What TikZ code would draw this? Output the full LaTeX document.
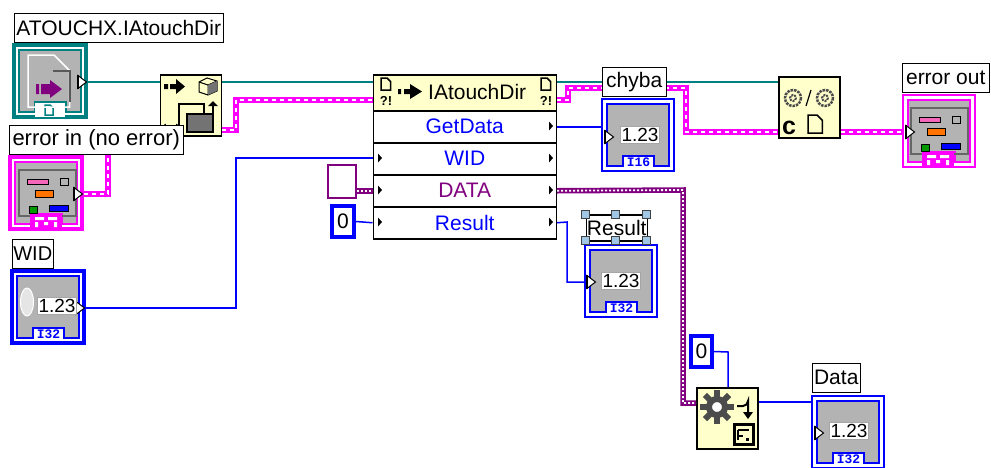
\documentclass[tikz,border=0pt]{standalone}
\usepackage{fontspec}
\setmainfont{Liberation Sans}
\setmonofont{Liberation Mono}
\usetikzlibrary{positioning}
\definecolor{labteal}{RGB}{0,128,128}
\definecolor{labpink}{RGB}{255,0,255}
\definecolor{labblue}{RGB}{0,0,255}
\definecolor{labpurple}{RGB}{128,0,128}
\definecolor{labyellow}{RGB}{255,255,204}
\definecolor{labgray}{RGB}{179,179,179}
\definecolor{labhandle}{RGB}{160,200,230}
\tikzset{
	caption/.style={draw=black, line width=1.5pt, fill=white, inner sep=0pt, font=\fontsize{21}{21}\selectfont, anchor=north west},
	vinode/.style={draw=black, line width=1.5pt, fill=labyellow, minimum size=61pt, inner sep=0pt, anchor=north west},
	prophead/.style={draw=black, line width=1.5pt, fill=labyellow, minimum width=183pt, minimum height=36pt, inner sep=0pt, anchor=north west},
	proprow/.style={draw=black, line width=1.5pt, fill=white, minimum width=183pt, minimum height=32pt, inner sep=0pt, font=\fontsize{21}{21}\selectfont, anchor=north west},
	constbox/.style={fill=white, inner sep=0pt, font=\fontsize{21}{21}\selectfont},
	bluewire/.style={draw=labblue, line width=1.5pt},
	tealwire/.style={draw=labteal, line width=1.5pt},
	errorwire/.style={draw=labpink, line width=6pt, postaction={draw=white, line width=2pt, dash pattern=on 4pt off 4pt}},
	datawire/.style={draw=labpurple, line width=5.5pt, postaction={draw=white, line width=1.8pt, dash pattern=on 2pt off 2pt}},
	tip/.style={fill=white, draw=black, line width=1pt, line join=miter},
	handlebox/.style={draw=black!75, fill=labhandle, line width=0.8pt}
}
%terminal: #1 name, #2 position, #3 colour, #4 outer border width, #5 tag text
\newcommand{\terminal}[5]{
	\begin{scope}[shift={#2}]
		\node[draw=#3, line width=#4, fill=white, minimum size=72pt, inner sep=0pt] (#1) at (37,37) {};
		\draw[#3, line width=1.5pt, fill=labgray] (6,6) -- (68,6) -- (68,68) -- (53,68) -- (53,58) -- (22,58) -- (22,68) -- (6,68) -- cycle;
		\node[text=#3, inner sep=0pt, font=\fontsize{13}{13}\bfseries\ttfamily] (#1tag) at (37.5,64) {#5};
	\end{scope}
}
%output triangle with its heavy back edge
\newcommand{\tiptri}[1]{
	\draw[tip] #1 ++(0,-6.5) -- ++(8.5,6.5) -- ++(-8.5,6.5) -- cycle;
	\draw[black, line width=2pt] #1 ++(0,-7) -- ++(0,14);
}
%numeric display shown inside a terminal
\newcommand{\numshow}[1]{
	\node[fill=white, draw=black!35, line width=1pt, inner sep=1.5pt, font=\fontsize{19}{19}\selectfont] at #1 {1.23};
}
%the bars and the tag of an error cluster
\newcommand{\errbars}[1]{
	\begin{scope}[shift={#1}]
		\draw[black!60, line width=1.2pt] (22,60) -- (10,60) -- (10,14) -- (67,14) -- (67,60) -- (53,60);
		\draw[line width=1pt, fill=magenta!60] (18,23) rectangle (39,28);
		\draw[line width=1pt, fill=orange!90!red] (26,34) rectangle (44,41);
		\draw[line width=1pt, fill=labgray] (51,22) rectangle (59,29);
		\draw[line width=1pt, fill=green!60!black] (20,50) rectangle (28,57);
		\draw[line width=1pt, fill=labblue] (40,49) rectangle (59,55);
		\fill[labpink] (21,58) rectangle (53,73);
		\fill[white] (26,61) rectangle (35,64) (39,61) rectangle (48,64) (26,66) rectangle (29,71) (35,66) rectangle (39,69) (45,66) rectangle (48,71);
	\end{scope}
}
%small sheet of paper with a folded corner
\newcommand{\sheet}[3]{
	\draw[#3] #1 -- ++(0,#2) -- ++(0.8*#2,0) -- ++(0,-0.7*#2) -- ++(-0.3*#2,-0.3*#2) -- cycle;
}
\begin{document}
\begin{tikzpicture}[x=1pt, y=-1pt]
	\useasboundingbox (0,0) rectangle (991,467);

	%bends of the wires
	\coordinate (errbendA) at (108,194);
	\coordinate (errbendB) at (108,150);
	\coordinate (openbendA) at (236,130);
	\coordinate (openbendB) at (236,100);
	\coordinate (propbendA) at (568,100);
	\coordinate (propbendB) at (568,88);
	\coordinate (chybabendA) at (686,88);
	\coordinate (chybabendB) at (686,132);
	\coordinate (widbendA) at (236,308);
	\coordinate (widbendB) at (236,158);
	\coordinate (databendA) at (683,190);
	\coordinate (databendB) at (683,403);
	\coordinate (resbendA) at (567,222);
	\coordinate (resbendB) at (567,282);
	\coordinate (zerobend) at (728,352);

	%nodes of the diagram
	\terminal{refnum}{(13,44)}{labteal}{3.5pt}{}
	\terminal{errin}{(9,156)}{labpink}{3.5pt}{}
	\terminal{widctl}{(11,270)}{labblue}{3.5pt}{I32}
	\terminal{chybaind}{(601,98)}{labblue}{1.5pt}{I16}
	\terminal{resultind}{(584,244)}{labblue}{1.5pt}{I32}
	\terminal{dataind}{(811,395)}{labblue}{1.5pt}{I32}
	\terminal{errout}{(902,94)}{labpink}{1.5pt}{}

	\node[vinode] (open) at (159.5,74) {};
	\node[vinode] (toerr) at (778,76) {};
	\node[vinode] (convert) at (696,387) {};

	\node[prophead] (prop) at (372.5,74) {};
	\node[proprow, text=labblue] (getdata) at (372.5,110) {GetData};
	\node[proprow, text=labblue] (wid) at (372.5,142) {WID};
	\node[proprow, text=labpurple] (data) at (372.5,174) {DATA};
	\node[proprow, text=labblue] (result) at (372.5,206) {Result};

	\node[constbox, draw=labpurple, line width=2pt, minimum width=28pt, minimum height=33pt] (dataconst) at (341.5,181) {};
	\node[constbox, draw=labblue, line width=4pt, minimum width=22pt, minimum height=31pt] (zeroA) at (343,221.5) {0};
	\node[constbox, draw=labblue, line width=4pt, minimum width=21pt, minimum height=31pt] (zeroB) at (701.5,351.5) {0};

	%connect them
	\draw[tealwire] (refnum.east |- 0,82) -- (open.west |- 0,82);
	\draw[tealwire] (open.east |- 0,82) -- (prop.west |- 0,82);
	\draw[tealwire] (prop.east |- 0,82) -- (toerr.west |- 0,82);
	\draw[errorwire] (errin.east |- errbendA) -- (errbendA) -- (errbendB);
	\draw[errorwire] (open.east |- openbendA) -- (openbendA) -- (openbendB) -- (prop.west |- openbendB);
	\draw[errorwire] (prop.east |- propbendA) -- (propbendA) -- (propbendB) -- (chybabendA) -- (chybabendB) -- (toerr.west |- chybabendB);
	\draw[errorwire] (toerr.east |- chybabendB) -- (errout.west |- chybabendB);
	\draw[bluewire] (widctl.east |- widbendA) -- (widbendA) -- (widbendB) -- (wid.west |- widbendB);
	\draw[bluewire] (getdata.east) -- (chybaind.west |- getdata.east);
	\draw[bluewire] (zeroA.east) -- (result.west);
	\draw[bluewire] (result.east) -- (resbendA) -- (resbendB) -- (resultind.west |- resbendB);
	\draw[bluewire] (zeroB.east) -- (zerobend) -- (zerobend |- convert.north);
	\draw[bluewire] (convert.east |- 0,402) -- (dataind.west |- 0,402);
	\draw[datawire] (dataconst.east |- data.west) -- (data.west);
	\draw[datawire] (data.east) -- (databendA) -- (databendB) -- (convert.west |- databendB);

	%icon of the open node
	\fill (164,84) rectangle (168,89) (170,84) rectangle (176,89) (176,79) -- (185,86.5) -- (176,94) -- cycle;
	\draw[line width=1pt] (199,82) -- (207,78) -- (217,81) -- (217,91) -- (208,95) -- (199,92) -- cycle (199,82) -- (208,85) -- (217,81) (208,85) -- (208,95);
	\fill[black!55] (208,85) -- (217,81) -- (217,91) -- (208,95) -- cycle;
	\draw[line width=1.5pt] (213,113) -- (213,105);
	\fill (208,106) -- (213,101) -- (218,106) -- cycle;
	\draw[line width=1.5pt] (179,125) -- (179,104) -- (204,104) -- (204,114);
	\draw[line width=1.5pt, fill=black!55] (187,114) rectangle (213,132);
	\draw[line width=1.5pt] (165,124) arc (180:0:6);

	%icon of the error conversion node
	\foreach \bx in {793,825}{
		\draw[black!70, densely dotted, line width=2.5pt] (\bx,98) circle (8);
		\draw[black!70, densely dotted, line width=2pt] (\bx,98) circle (3);
	}
	\draw[line width=1.2pt] (806,106) -- (811,90);
	\node[font=\fontsize{25}{25}\bfseries] (cletter) at (789,128) {c};
	\sheet{(808,115)}{18}{line width=1.5pt}

	%icon of the variant conversion node
	\foreach \ga in {0,45,...,315}
		\draw[black!70, line width=6pt] (717,407) -- ++(\ga:17);
	\draw[black!70, line width=6pt, fill=white] (717,407) circle (8);
	\draw[line width=2pt] (737,406) -- (743,406) arc (90:0:5) -- (748,413);
	\fill (743,412) -- (753,412) -- (748,419) -- cycle;
	\draw[line width=3pt, fill=labyellow] (734,424) rectangle (753,444);
	\draw[line width=2pt] (738,430) -- (749,430) (738,430) -- (738,440) (738,436) -- (743,436);
	\fill (746,438) rectangle (749,441);

	%head of the property node
	\sheet{(381,78)}{12}{line width=1.5pt}
	\sheet{(541,78)}{12}{line width=1.5pt}
	\foreach \qx in {381,541}{
		\node[inner sep=0pt, font=\fontsize{13}{13}\bfseries] at (\qx+5,101) {?!};
	}
	\fill (398,89) rectangle (401,94) (404,89) rectangle (410,94) (410,84) -- (422,91.5) -- (410,99) -- cycle;
	\node[anchor=west, inner sep=0pt, font=\fontsize{21}{21}\selectfont] (proptitle) at (428,92) {IAtouchDir};

	%arrows in the rows of the property node
	\foreach \ry in {126,158,190,222}
		\fill (549,\ry-4.5) -- (553,\ry) -- (549,\ry+4.5) -- cycle;
	\foreach \ry in {158,190,222}
		\fill (378,\ry-4.5) -- (382,\ry) -- (378,\ry+4.5) -- cycle;

	%labels sit on top of the wires
	\node[caption, minimum width=209pt, minimum height=29pt] (reflabel) at (13.5,12.5) {ATOUCHX.IAtouchDir};
	\node[caption, minimum width=174pt, minimum height=29pt, font=\fontsize{22}{22}\selectfont] (errlabel) at (8.5,124.5) {error in (no error)};
	\node[caption, minimum width=41pt, minimum height=29pt, font=\fontsize{20}{20}\selectfont] (widlabel) at (11.5,238.5) {WID};
	\node[caption, minimum width=64pt, minimum height=29pt] (chybalabel) at (601.5,66.5) {chyba};
	\node[caption, minimum width=61pt, minimum height=26pt] (reslabel) at (585.5,214) {Result};
	\node[caption, minimum width=87pt, minimum height=29pt] (outlabel) at (901.5,62.5) {error out};
	\node[caption, minimum width=48pt, minimum height=29pt] (datalabel) at (811.5,362.5) {Data};

	\foreach \hx/\hy in {585/214, 615/214, 646/214, 585/240, 615/240, 646/240}
		\draw[handlebox] (\hx-4,\hy-4) rectangle (\hx+4,\hy+4);

	%the inner parts of the terminals
	\errbars{(9,156)}
	\errbars{(901,94)}
	\fill[white] (35,103) rectangle (65,117);
	\sheet{(45,105)}{10}{labteal, line width=1.5pt}
	\sheet{(28,55)}{52}{white, line width=1.5pt}
	\draw[black!65, line width=1.5pt] (53,71) -- (70,71) -- (70,102);
	\fill[labpurple] (36,84) rectangle (39,94) (41,84) rectangle (50,94) (50,80) -- (62,89) -- (50,98) -- cycle;
	\draw[white, line width=1pt, fill=black!10] (27,302) ellipse (6.5 and 14);
	\tiptri{(78,82)}
	\tiptri{(74,194)}
	\tiptri{(76,308)}
	\tiptri{(605,137)}
	\tiptri{(587,282)}
	\tiptri{(815,433)}
	\tiptri{(906,132)}
	\numshow{(640,135)}
	\numshow{(621,281)}
	\numshow{(849,431)}
	\numshow{(57,306)}
\end{tikzpicture}
\end{document}
